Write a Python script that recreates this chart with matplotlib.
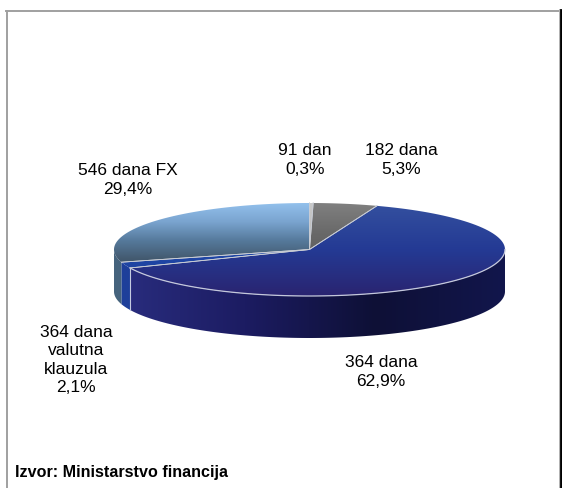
import numpy as np
import matplotlib
matplotlib.use('Agg')
import matplotlib.pyplot as plt
from matplotlib.path import Path
from matplotlib.patches import PathPatch
from matplotlib.colors import LinearSegmentedColormap

# data, in pie order, clockwise from the top
names = ['91 dan', '182 dana', '364 dana', '364 dana\nvalutna\nklauzula', '546 dana FX']
shares = [0.3, 5.3, 62.9, 2.1, 29.4]
share_text = ['0,3%', '5,3%', '62,9%', '2,1%', '29,4%']
source = 'Izvor: Ministarstvo financija'

# label centres in pixels
label_x = [305, 401, 381, 76, 128]
label_y = [160, 160, 372, 360, 180]

top_cols = [['#c8c8c8', '#a8a8a8'],
            ['#808080', '#686868', '#5c5c5c', '#5c5c5c'],
            ['#34509f', '#243a94', '#2a2470'],
            ['#1c3c98', '#2048a8', '#1c3c98'],
            ['#92c0ec', '#7aa4cf', '#567a9c', '#435a70', '#3c5068', '#3c5068']]
side_cols = [['#888888', '#888888'],
             ['#555555', '#555555'],
             ['#2a2e80', '#1c1c62', '#0e1036', '#12164c'],
             ['#1e3f9a', '#1e3f9a'],
             ['#46647e', '#3c566c']]

cx, cy, rx, ry, depth = 309.5, 249.5, 195.5, 46.5, 42

plt.rcParams['font.family'] = ['Liberation Sans', 'DejaVu Sans']
fig = plt.figure(figsize=(5.62, 4.88), dpi=100)
ax = fig.add_axes([0, 0, 1, 1])
ax.set_xlim(0, 562)
ax.set_ylim(488, 0)
ax.axis('off')


def fill_grad(verts, cols, horizontal, z):
    verts = np.array(verts)
    codes = [Path.MOVETO] + [Path.LINETO] * (len(verts) - 2) + [Path.CLOSEPOLY]
    patch = PathPatch(Path(verts, codes), fc='none', ec='none', transform=ax.transData)
    ax.add_patch(patch)
    cmap = LinearSegmentedColormap.from_list('g', cols)
    grad = np.linspace(0, 1, 256)
    if horizontal:
        grad = grad.reshape(1, -1)
        ext = [cx - rx, cx + rx, cy + ry + depth, cy - ry]
    else:
        grad = grad.reshape(-1, 1)
        ext = [cx - rx, cx + rx, cy + ry, cy - ry]
    im = ax.imshow(grad, cmap=cmap, extent=ext, aspect='auto', zorder=z,
                   origin='upper' if not horizontal else 'lower')
    im.set_clip_path(patch)


def rim(a):
    # a is degrees clockwise from the top of the pie
    a = np.radians(a)
    return cx + rx * np.sin(a), cy - ry * np.cos(a)


edges = np.cumsum([0] + shares) / sum(shares) * 360
for i in range(len(shares)):
    a0, a1 = edges[i], edges[i + 1]
    t = np.linspace(a0, a1, 120)
    x, y = rim(t)

    # side wall, only the front half of the rim shows
    s0, s1 = max(a0, 90), min(a1, 270)
    if s1 > s0:
        ts = np.linspace(s0, s1, 120)
        sx, sy = rim(ts)
        wall = list(zip(sx, sy)) + list(zip(sx[::-1], sy[::-1] + depth)) + [(sx[0], sy[0])]
        fill_grad(wall, side_cols[i], True, 2)
        if names[i] == '364 dana':
            ax.plot([sx[-1], sx[-1]], [sy[-1], sy[-1] + depth], color='#c4cbe0', lw=0.8, zorder=3)
            ax.plot(sx, sy, color='#c4c8dc', lw=0.9, zorder=5)

    top = [(cx, cy)] + list(zip(x, y)) + [(cx, cy)]
    fill_grad(top, top_cols[i], False, 4)
    ax.plot([rim(a0)[0], cx, rim(a1)[0]], [rim(a0)[1], cy, rim(a1)[1]],
            color='#c8ccd4', lw=0.6, zorder=5)

ax.set_xlim(0, 562)
ax.set_ylim(488, 0)

for i in range(len(names)):
    ax.text(label_x[i], label_y[i], names[i] + '\n' + share_text[i], ha='center', va='center',
            fontsize=12.5, linespacing=1.28, color='black', zorder=6)

ax.text(15, 473, source, ha='left', va='center', fontsize=11.65, fontweight='bold', color='black')

# frame, open at the bottom
ax.plot([6.5, 6.5], [488, 10.5], color='#a0a0a0', lw=1.4)
ax.plot([6, 560], [10.5, 10.5], color='#a0a0a0', lw=1.4)
ax.plot([559.5, 559.5], [10, 488], color='#b0b0b0', lw=1.4)
ax.plot([561, 561], [10, 488], color='black', lw=2)

fig.savefig('out.png', dpi=100)
